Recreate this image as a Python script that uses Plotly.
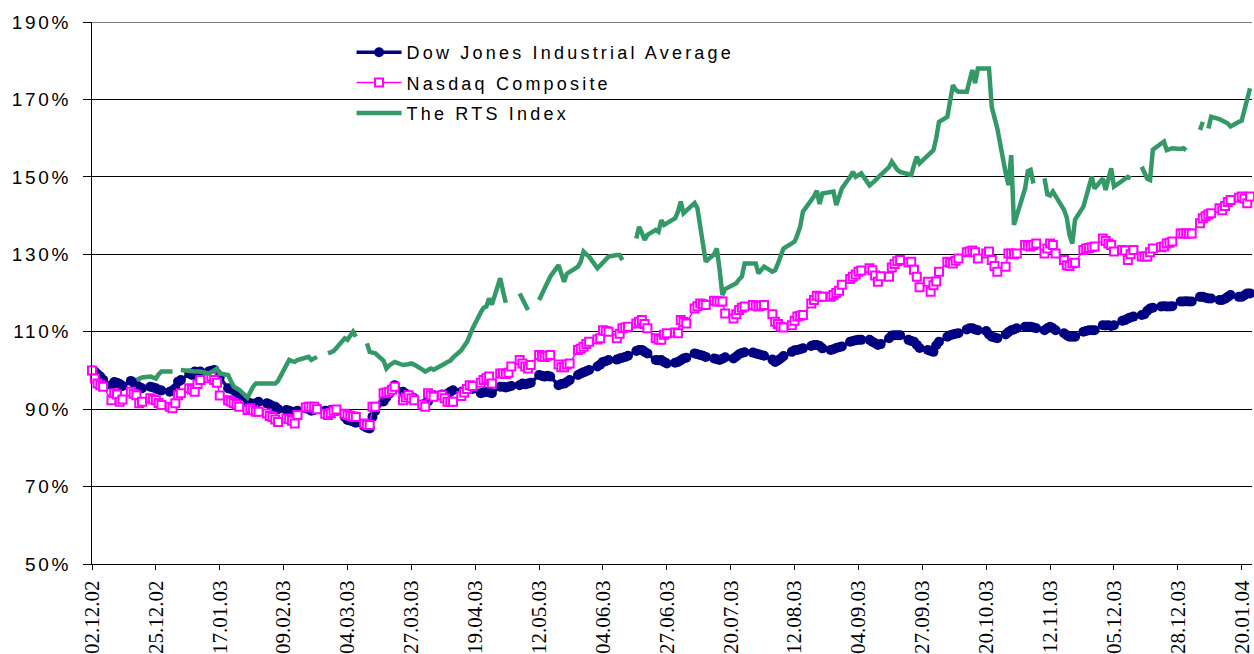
import pandas as pd
import plotly.graph_objects as go

# ---------------- data (daily, trading weekdays) ----------------
start_date = "2002-12-02"
end_date = "2004-01-23"

dow = [
    100.0, 99.7, 99.0, 98.4, 97.6,
    96.2, 97.0, 96.8, 96.5, 96.0,
    97.3, 96.8, 96.2, 95.7, 95.4,
    95.8, 95.6, 95.4, 95.0, 94.8,
    94.5, 94.8, 95.4, 97.1, 97.5,
    99.2, 98.8, 99.7, 99.5, 99.7,
    99.7, 99.9, 100.1, 99.2, 98.2,
    95.4, 95.2, 94.9, 94.3, 93.2,
    91.9, 91.5, 91.1, 91.5, 91.9,
    91.5, 91.2, 90.8, 90.6, 90.0,
    89.8, 89.6, 89.3, 89.3, 89.6,
    90.2, 90.0, 89.6, 89.8, 90.2,
    89.6, 89.3, 89.8, 89.6, 89.5,
    88.0, 87.2, 87.0, 86.8, 86.5,
    85.6, 85.2, 85.0, 88.0, 89.5,
    92.0, 93.0, 94.0, 95.2, 96.2,
    94.5, 94.0, 93.6, 93.2, 92.8,
    90.8, 91.5, 92.0, 93.0, 93.6,
    93.8, 93.6, 94.0, 94.5, 94.9,
    94.5, 94.5, 95.0, 95.4, 95.2,
    94.1, 94.3, 94.5, 94.3, 94.1,
    95.8, 95.8, 95.6, 95.8, 96.0,
    96.2, 96.6, 96.4, 96.6, 96.8,
    98.8, 98.6, 98.4, 98.6, 98.4,
    96.2, 96.5, 96.6, 97.0, 97.5,
    98.8, 99.2, 99.5, 99.8, 100.1,
    101.0, 101.5, 102.2, 102.4, 102.7,
    102.8, 103.1, 103.3, 103.5, 103.8,
    105.0, 105.3, 105.3, 104.8, 104.4,
    102.7, 102.6, 102.7, 102.2, 101.8,
    102.0, 102.2, 102.6, 103.1, 103.3,
    104.4, 104.2, 104.0, 103.8, 103.5,
    103.1, 102.9, 102.7, 103.0, 103.4,
    103.1, 103.6, 104.2, 104.5, 104.7,
    104.6, 104.4, 104.2, 104.0, 103.8,
    102.8, 102.2, 102.6, 103.1, 103.7,
    104.8, 105.2, 105.3, 105.5, 105.7,
    106.3, 106.6, 106.6, 106.3, 105.7,
    105.3, 105.5, 105.8, 106.0, 106.2,
    107.4, 107.6, 107.8, 107.9, 107.9,
    107.9, 107.4, 107.0, 106.6, 106.8,
    108.3, 109.0, 109.1, 109.1, 109.1,
    107.9, 107.6, 107.4, 106.6, 105.8,
    105.3, 105.0, 104.8, 106.5, 107.4,
    108.7, 109.1, 109.3, 109.5, 109.6,
    110.6, 110.9, 110.9, 110.6, 110.4,
    110.2, 109.3, 108.7, 108.5, 108.3,
    109.3, 109.9, 110.4, 110.6, 110.9,
    111.3, 111.3, 111.3, 111.1, 110.9,
    110.4, 110.9, 111.3, 110.9, 110.4,
    109.6, 109.1, 108.7, 108.7, 108.7,
    110.0, 110.2, 110.4, 110.4, 110.4,
    111.7, 111.6, 111.7, 111.5, 111.7,
    112.8, 113.0, 113.4, 113.7, 113.9,
    114.3, 114.5, 115.4, 116.0, 116.2,
    116.5, 116.6, 116.5, 116.5, 116.6,
    117.8, 117.8, 117.9, 117.8, 117.8,
    119.0, 119.0, 118.8, 118.6, 118.6,
    118.2, 118.2, 118.5, 119.0, 119.5,
    119.0, 119.0, 119.4, 119.9, 119.9,
]

nasdaq = [
    100.0, 97.9, 96.6, 96.2, 95.8,
    92.3, 94.1, 93.8, 91.9, 92.5,
    94.5, 94.0, 93.6, 91.5, 91.9,
    92.8, 92.5, 92.3, 91.6, 91.1,
    90.6, 90.2, 91.5, 93.6, 94.1,
    95.4, 95.0, 94.5, 96.5, 97.5,
    98.0, 98.4, 97.5, 96.8, 93.5,
    92.3, 92.0, 91.6, 91.2, 90.6,
    89.8, 90.2, 89.7, 89.3, 89.3,
    88.9, 88.2, 88.0, 87.3, 86.7,
    87.6, 87.4, 87.0, 86.3, 88.5,
    90.4, 90.6, 90.6, 90.6, 90.0,
    88.8, 88.5, 89.0, 89.6, 89.9,
    88.8, 88.5, 88.3, 88.1, 88.0,
    86.3, 86.0, 85.9, 90.6, 90.6,
    94.1, 94.3, 94.5, 95.0, 95.8,
    92.3, 93.0, 93.6, 92.8, 92.3,
    91.2, 90.6, 94.1, 93.6, 93.2,
    93.6, 92.8, 91.9, 91.9, 91.9,
    93.4, 94.3, 95.2, 96.2, 96.0,
    96.8, 97.5, 98.0, 98.4, 96.6,
    99.2, 99.2, 99.1, 99.4, 101.0,
    102.7, 101.8, 101.0, 100.5, 101.4,
    104.0, 103.6, 103.5, 103.8, 104.0,
    101.5, 100.8, 100.8, 101.5, 101.8,
    105.3, 105.6, 106.1, 106.8, 107.4,
    108.0, 108.3, 110.4, 110.2, 110.0,
    108.3, 109.5, 110.9, 111.1, 111.3,
    112.1, 112.6, 113.0, 112.0, 110.9,
    108.3, 108.0, 107.9, 109.2, 109.6,
    109.8, 109.6, 113.0, 112.5, 112.1,
    116.0, 116.6, 117.3, 117.1, 116.9,
    118.0, 117.8, 117.8, 117.8, 114.7,
    113.4, 114.5, 115.6, 116.2, 116.5,
    116.9, 116.7, 116.5, 116.7, 116.9,
    114.5, 112.6, 112.0, 111.3, 111.1,
    111.7, 112.8, 113.9, 114.1, 114.3,
    117.3, 118.2, 119.3, 119.0, 119.0,
    119.0, 119.5, 120.0, 120.6, 122.1,
    123.6, 124.2, 124.8, 125.5, 125.8,
    126.4, 125.9, 124.5, 122.9, 124.3,
    124.2, 126.6, 127.5, 128.2, 128.5,
    127.9, 128.1, 126.0, 124.2, 121.5,
    122.9, 120.3, 122.0, 123.0, 125.5,
    128.1, 127.8, 127.6, 128.3, 128.9,
    130.5, 130.7, 131.0, 130.5, 128.9,
    130.2, 130.7, 128.5, 127.0, 125.5,
    126.8, 130.2, 130.2, 130.0, 130.2,
    132.4, 132.2, 132.0, 132.4, 132.8,
    130.2, 131.5, 132.8, 132.4, 130.2,
    128.5, 127.2, 127.0, 127.6, 127.8,
    131.1, 131.5, 131.6, 131.8, 132.0,
    134.1, 133.4, 132.8, 132.4, 130.7,
    131.1, 131.0, 128.5, 130.0, 131.1,
    129.4, 129.4, 129.4, 130.5, 131.5,
    131.8, 132.0, 132.8, 133.0, 133.3,
    135.4, 135.4, 135.4, 135.4, 135.4,
    138.0, 139.3, 139.8, 140.3, 140.6,
    141.9, 141.4, 142.5, 143.5, 144.0,
    144.6, 144.9, 144.4, 143.2, 144.9,
]

rts = [
    None, None, None, None, None,
    None, None, None, None, None,
    None, None, 97.5, 97.9, 98.2,
    98.4, 98.2, 97.9, 99.0, 99.7,
    99.7, 99.7, None, None, 100.1,
    99.7, 99.7, 99.7, 99.7, 99.7,
    99.2, 99.5, 100.0, 100.5, 99.2,
    98.8, 97.5, 95.8, 95.4, 95.0,
    93.0, 94.5, 95.8, 96.6, 96.6,
    96.6, 96.6, 96.6, 96.6, 97.3,
    101.8, 102.7, 102.4, 102.2, 102.7,
    103.3, 103.5, 102.7, 103.2, 103.5,
    None, 104.4, 104.8, 105.0, 105.8,
    108.3, 107.9, 108.8, 110.0, 108.7,
    None, 107.0, 104.8, 104.6, 104.4,
    102.5, 100.5, 101.3, 101.8, 102.2,
    101.4, 101.4, 101.6, 101.8, 101.5,
    100.2, 99.7, 100.1, 100.5, 100.2,
    101.2, 101.7, 102.2, 102.5, 103.3,
    105.2, 106.3, 107.3, 109.0, 110.8,
    115.0, 116.2, 116.5, 118.6, 117.0,
    123.8, 120.5, 117.5, None, None,
    119.9, 118.5, 117.2, 115.6, None,
    118.2, 119.8, 121.5, 123.0, 124.2,
    127.2, 124.8, 122.9, 125.0, 125.5,
    126.8, 128.1, 130.7, 130.0, 129.4,
    126.4, 127.2, 128.1, 128.8, 129.4,
    129.8, 129.8, 128.5, None, None,
    134.1, 137.1, 135.5, 133.7, 135.0,
    136.3, 135.8, 138.8, 137.6, 138.0,
    139.3, 141.0, 143.6, 140.6, 141.2,
    143.2, 141.9, 137.0, 132.0, 128.1,
    130.0, 131.5, 126.0, 119.5, 121.0,
    122.3, 122.5, 123.5, 124.2, 127.6,
    127.6, 127.6, 125.1, 126.0, 126.8,
    125.5, 125.9, 127.6, 129.5, 131.5,
    132.8, 133.3, 135.0, 137.1, 141.0,
    143.8, 145.0, 146.4, 143.0, 145.7,
    146.0, 146.2, 142.7, 145.0, 147.0,
    150.0, 151.3, 150.0, 150.5, 150.9,
    147.8, 148.3, 149.0, 149.8, 150.5,
    152.5, 153.9, 152.8, 151.8, 151.3,
    150.7, 150.5, 153.0, 155.2, 153.5,
    155.5, 156.3, 156.9, 160.0, 164.2,
    165.5, 169.0, 173.7, 172.5, 172.0,
    172.0, 174.5, 177.6, 174.2, 178.0,
    178.0, 178.0, 168.0, 164.7, 162.5,
    151.0, 147.9, 155.6, 137.6, 140.0,
    147.0, 151.5, 151.8, 148.3, None,
    149.6, 145.5, 145.2, 146.2, 145.0,
    141.5, 139.5, 135.0, 132.8, 139.0,
    142.3, 145.0, 147.0, 150.0, 147.0,
    149.6, 146.6, 149.0, 152.2, 147.5,
    149.2, 149.5, 150.0, 149.6, None,
    152.6, 151.0, 149.5, 149.2, 157.0,
    158.6, 159.1, 156.9, 157.2, 157.4,
    157.2, 157.4, 156.9, None, None,
    162.1, 164.2, None, 162.5, 165.5,
    164.9, 164.7, 164.2, 163.8, 163.0,
    164.2, 164.5, 167.3, 169.8, 172.9,
]

series_names = ["Dow Jones Industrial Average", "Nasdaq Composite", "The RTS Index"]

x_tick_labels = ["02.12.02", "25.12.02", "17.01.03", "09.02.03", "04.03.03",
                 "27.03.03", "19.04.03", "12.05.03", "04.06.03", "27.06.03",
                 "20.07.03", "12.08.03", "04.09.03", "27.09.03", "20.10.03",
                 "12.11.03", "05.12.03", "28.12.03", "20.01.04"]

y_tick_values = [50, 70, 90, 110, 130, 150, 170, 190]
y_tick_labels = ["50%", "70%", "90%", "110%", "130%", "150%", "170%", "190%"]

# ---------------- figure ----------------
dates = pd.bdate_range(start_date, end_date)
x_tick_vals = pd.to_datetime(x_tick_labels, format="%d.%m.%y")

NAVY = "#000080"
MAGENTA = "#FF00FF"
GREEN = "#339966"

def spaced(t, ls):
    return f'<span style="letter-spacing:{ls}px">{t}</span>'

fig = go.Figure()
fig.add_trace(go.Scatter(
    x=dates, y=dow, name=spaced(series_names[0], 3.2), legendgroup="a",
    mode="lines+markers", cliponaxis=False,
    line=dict(color=NAVY, width=3.5),
    marker=dict(symbol="circle", size=10, color=NAVY, line=dict(width=0)),
))
fig.add_trace(go.Scatter(
    x=dates, y=nasdaq, name=spaced(series_names[1], 3.2), legendgroup="b",
    mode="lines+markers", cliponaxis=False,
    line=dict(color=MAGENTA, width=1.5),
    marker=dict(symbol="square", size=8, color="white",
                line=dict(color=MAGENTA, width=2)),
))
fig.add_trace(go.Scatter(
    x=dates, y=rts, name=spaced(series_names[2], 3.2), legendgroup="c",
    mode="lines", connectgaps=False,
    line=dict(color=GREEN, width=4.5),
))

PLOT_W = 1162.0
PLOT_H = 542.0

fig.update_layout(
    width=1254, height=654,
    margin=dict(l=92, r=0, t=22, b=90, pad=0),
    paper_bgcolor="white", plot_bgcolor="white",
    showlegend=True,
    legend=dict(
        x=(352 - 92) / PLOT_W, y=(564 - 34) / PLOT_H,
        xanchor="left", yanchor="top",
        bgcolor="rgba(0,0,0,0)", borderwidth=0,
        font=dict(family="Liberation Sans, Arial, sans-serif", size=18, color="black"),
        itemwidth=45, tracegroupgap=4, traceorder="grouped",
    ),
    xaxis=dict(
        type="date",
        range=[start_date, "2004-01-23 17:00"],
        tickvals=x_tick_vals, ticktext=x_tick_labels,
        tickangle=-90,
        tickfont=dict(family="Liberation Serif, Times New Roman, serif", size=21, color="black"),
        showgrid=False, zeroline=False,
        showline=True, linecolor="black", linewidth=1,
        ticks="outside", ticklen=5, tickcolor="black", tickwidth=1,
        ticklabelstandoff=2, ticklabeloverflow="allow",
    ),
    yaxis=dict(
        range=[50, 190],
        tickvals=y_tick_values,
        ticktext=[spaced(t, 2.7) for t in y_tick_labels],
        tickfont=dict(family="Liberation Sans, Arial, sans-serif", size=19, color="black"),
        showgrid=True, gridcolor="black", gridwidth=1,
        zeroline=False,
        showline=True, linecolor="black", linewidth=1,
        ticks="outside", ticklen=8, tickcolor="black", tickwidth=1,
        ticklabelstandoff=8,
    ),
    shapes=[
        # top gridline at 190%
        dict(type="line", xref="paper", yref="y", x0=0, x1=1, y0=190, y1=190,
             line=dict(color="black", width=1), layer="between"),
        # white backing of the legend (hides the 170% gridline there)
        dict(type="rect", xref="paper", yref="paper",
             x0=(310 - 92) / PLOT_W, x1=(785 - 92) / PLOT_W,
             y0=(564 - 128) / PLOT_H, y1=(564 - 38) / PLOT_H,
             fillcolor="white", line=dict(width=0), layer="between"),
    ],
)

fig.write_html("out.html", config={"displayModeBar": False},
               post_script="document.body.style.margin='0px';")
